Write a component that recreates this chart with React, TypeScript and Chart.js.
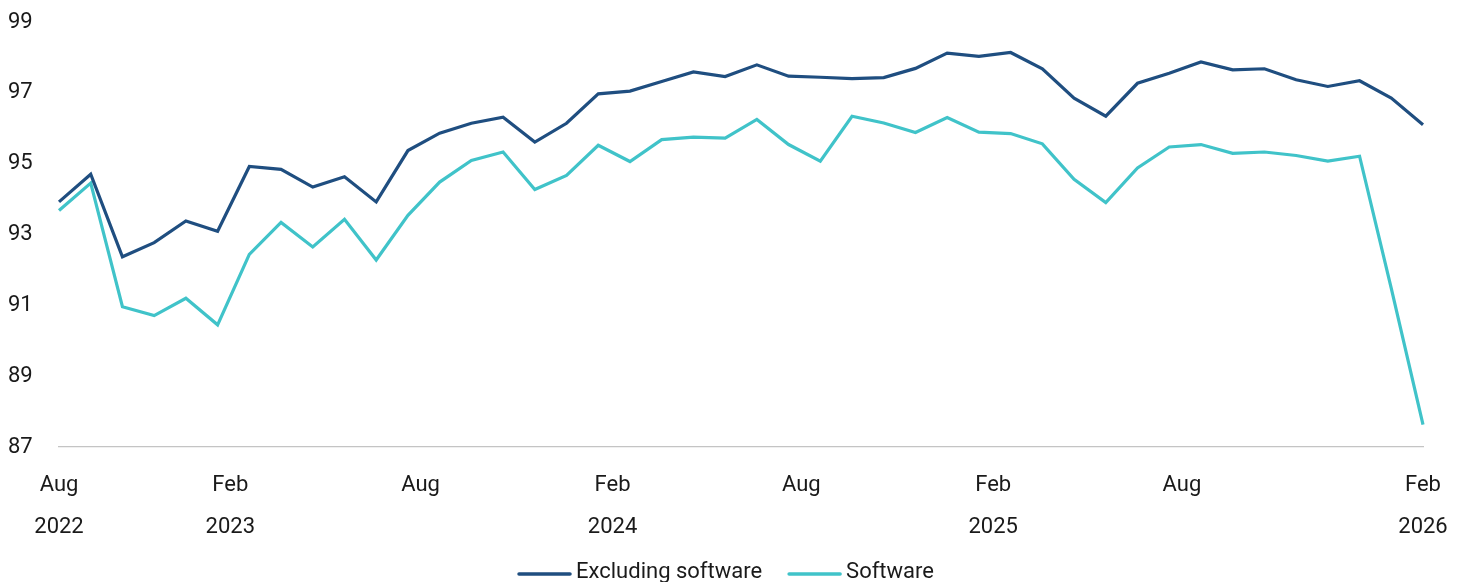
import React, { useEffect, useRef } from "react";
import { Chart, registerables } from "chart.js";

Chart.register(...registerables);

// Monthly-ish observations, index 0 .. 43
const excludingSoftware = [
  93.92, 94.7, 92.37, 92.77, 93.38, 93.09, 94.92, 94.84, 94.34, 94.63,
  93.92, 95.37, 95.86, 96.14, 96.31, 95.61, 96.14, 96.97, 97.05, 97.32,
  97.59, 97.46, 97.79, 97.47, 97.44, 97.4, 97.43, 97.69, 98.12, 98.03,
  98.14, 97.68, 96.85, 96.34, 97.27, 97.55, 97.87, 97.65, 97.68, 97.37,
  97.18, 97.34, 96.85, 96.1,
];
const software = [
  93.68, 94.45, 90.96, 90.71, 91.2, 90.45, 92.44, 93.34, 92.65, 93.43,
  92.28, 93.54, 94.48, 95.09, 95.33, 94.27, 94.67, 95.52, 95.06, 95.68,
  95.75, 95.72, 96.25, 95.54, 95.07, 96.34, 96.15, 95.88, 96.3, 95.89,
  95.85, 95.56, 94.56, 93.9, 94.88, 95.47, 95.54, 95.29, 95.33, 95.23,
  95.07, 95.21, 91.48, 87.63,
];

const seriesLabels = ["Excluding software", "Software"];
const seriesColors = ["#1f4e80", "#40c3c9"];

// x-axis tick labels and where they sit (in observation-index units)
const xTickAt = [0, 5.4, 11.4, 17.45, 23.4, 29.45, 35.4, 43];
const xTickMonths = ["Aug", "Feb", "Aug", "Feb", "Aug", "Feb", "Aug", "Feb"];
const xTickYears = ["2022", "2023", "", "2024", "", "2025", "", "2026"];

const yMin = 87;
const yMax = 99;
const yStep = 2;

const FONT = "Roboto";
const TEXT = "#1a1a1a";

const legendPlugin = {
  id: "lineLegend",
  afterDraw(chart: any) {
    const ctx = chart.ctx;
    ctx.save();
    ctx.font = `22px ${FONT}`;
    const lineW = 53;
    const gap = 5;
    const itemGap = 26;
    const items = chart.data.datasets.map((ds: any) => ({
      label: ds.label,
      color: ds.borderColor,
      w: ctx.measureText(ds.label).width,
    }));
    const total =
      items.reduce((s: number, it: any) => s + lineW + gap + it.w, 0) +
      itemGap * (items.length - 1);
    let x = chart.width / 2 - total / 2 - 4;
    const y = chart.height - 10;
    for (const it of items) {
      ctx.strokeStyle = it.color;
      ctx.lineWidth = 3.5;
      ctx.lineCap = "round";
      ctx.beginPath();
      ctx.moveTo(x + 1, y + 2);
      ctx.lineTo(x + lineW - 1, y + 2);
      ctx.stroke();
      ctx.fillStyle = TEXT;
      ctx.textAlign = "left";
      ctx.textBaseline = "middle";
      ctx.fillText(it.label, x + lineW + gap, y);
      x += lineW + gap + it.w + itemGap;
    }
    ctx.restore();
  },
};

export default function App() {
  const canvasRef = useRef<HTMLCanvasElement | null>(null);

  useEffect(() => {
    if (!canvasRef.current) return;
    const toPoints = (arr: number[]) => arr.map((v, i) => ({ x: i, y: v }));
    const chart = new Chart(canvasRef.current, {
      type: "line",
      data: {
        datasets: [
          {
            label: seriesLabels[0],
            data: toPoints(excludingSoftware),
            borderColor: seriesColors[0],
            backgroundColor: seriesColors[0],
            borderWidth: 3.2,
            pointRadius: 0,
            tension: 0,
            clip: false as any,
          },
          {
            label: seriesLabels[1],
            data: toPoints(software),
            borderColor: seriesColors[1],
            backgroundColor: seriesColors[1],
            borderWidth: 3.2,
            pointRadius: 0,
            tension: 0,
            clip: false as any,
          },
        ],
      },
      options: {
        responsive: false,
        animation: false,
        layout: { padding: { top: 14, right: 29, bottom: 36, left: 0 } },
        plugins: {
          legend: { display: false },
          tooltip: { enabled: false },
        },
        scales: {
          x: {
            type: "linear",
            min: 0,
            max: excludingSoftware.length - 1,
            grid: { display: false, drawTicks: false, tickLength: 0 },
            border: { display: true, color: "#c4c4c4", width: 1.2 },
            afterBuildTicks: (scale: any) => {
              scale.ticks = xTickAt.map((v) => ({ value: v }));
            },
            afterFit: (scale: any) => {
              scale.height = 99;
              scale.paddingLeft = 0;
              scale.paddingRight = 0;
            },
            ticks: {
              autoSkip: false,
              maxRotation: 0,
              minRotation: 0,
              padding: 18,
              color: TEXT,
              font: { family: FONT, size: 22, lineHeight: 1.9 },
              callback: (_v: any, i: number) => [xTickMonths[i], xTickYears[i]],
            },
          },
          y: {
            min: yMin,
            max: yMax,
            grid: { display: false, drawTicks: false, tickLength: 0 },
            border: { display: false },
            afterFit: (scale: any) => {
              scale.width = 51;
            },
            ticks: {
              stepSize: yStep,
              crossAlign: "far",
              padding: 0,
              color: TEXT,
              font: { family: FONT, size: 22 },
            },
          },
        },
      },
      plugins: [legendPlugin],
    });
    return () => chart.destroy();
  }, []);

  return (
    <div style={{ width: 1444, height: 574 }}>
      <canvas
        ref={canvasRef}
        width={1444}
        height={574}
        style={{ display: "block", width: 1444, height: 574 }}
      />
    </div>
  );
}
